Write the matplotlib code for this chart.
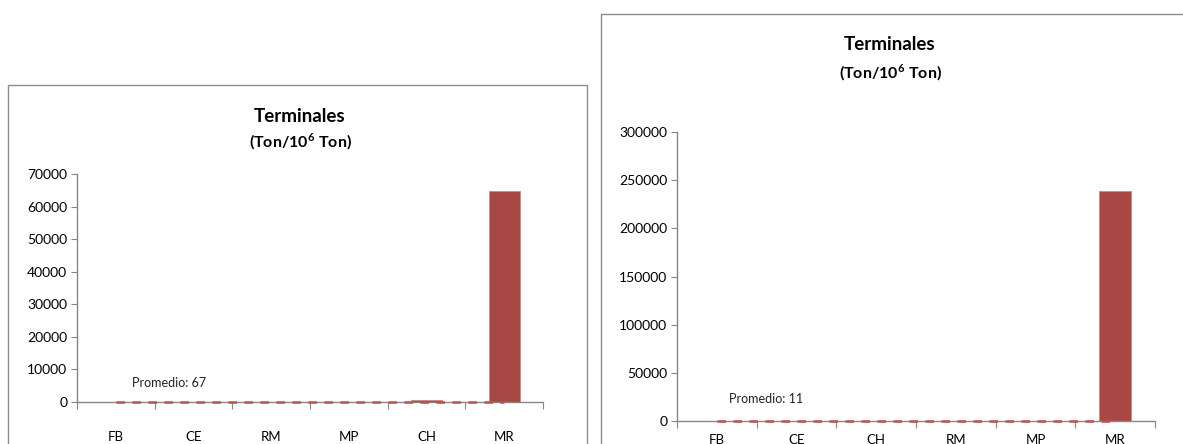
import matplotlib.pyplot as plt
from matplotlib.patches import Rectangle

plt.rcParams['font.family'] = ['Lato', 'DejaVu Sans']
plt.rcParams['mathtext.fontset'] = 'custom'
plt.rcParams['mathtext.rm'] = 'Lato'
plt.rcParams['mathtext.bf'] = 'Lato:bold'

# datos
cats_left = ['FB', 'CE', 'RM', 'MP', 'CH', 'MR']
vals_left = [30, 90, 50, 40, 700, 64700]
prom_left = 67
ticks_left = [0, 10000, 20000, 30000, 40000, 50000, 60000, 70000]

cats_right = ['FB', 'CE', 'CH', 'RM', 'MP', 'MR']
vals_right = [8, 14, 10, 12, 9, 239000]
prom_right = 11
ticks_right = [0, 50000, 100000, 150000, 200000, 250000, 300000]

BAR = '#A94744'
LINE = '#C0504D'
GRAY = '#868686'

W, H = 1183, 444
fig = plt.figure(figsize=(W / 100, H / 100), dpi=100)

# marcos de los graficos
fig.patches.append(Rectangle((8 / W, -0.1), 579 / W, (H - 85) / H + 0.1,
                             transform=fig.transFigure, fill=False,
                             edgecolor='#8c8c8c', linewidth=1))
fig.patches.append(Rectangle((601 / W, -0.1), 600 / W, (H - 14) / H + 0.1,
                             transform=fig.transFigure, fill=False,
                             edgecolor='#8c8c8c', linewidth=1))


def draw(rect, cats, vals, prom, ticks, txt_xy, xpad):
    ax = fig.add_axes(rect)
    x = list(range(len(cats)))
    ax.bar(x, vals, width=0.4, color=BAR, edgecolor='#c98a88', linewidth=0.6, zorder=2)
    ax.plot(x, [prom] * len(x), color=LINE, linestyle=(0, (3.4, 3.0)),
            linewidth=1.8, zorder=4, clip_on=False)
    ax.annotate(f'Promedio: {prom}', xy=(0, prom), xytext=txt_xy,
                textcoords='offset points', fontsize=9, color='#222222')
    ax.set_xlim(-0.5, len(cats) - 0.5)
    ax.set_ylim(0, ticks[-1])
    ax.set_yticks(ticks)
    ax.set_yticklabels([str(t) for t in ticks])
    ax.set_xticks([i - 0.5 for i in range(len(cats) + 1)])
    ax.set_xticklabels([])
    ax.set_xticks(x, minor=True)
    ax.set_xticklabels(cats, minor=True)
    ax.tick_params(axis='x', which='major', length=5, color=GRAY, direction='out')
    ax.tick_params(axis='x', which='minor', length=0, pad=xpad, labelsize=9.5)
    ax.tick_params(axis='y', length=4, color=GRAY, pad=3, labelsize=10)
    for s in ['top', 'right']:
        ax.spines[s].set_visible(False)
    for s in ['left', 'bottom']:
        ax.spines[s].set_color(GRAY)
        ax.spines[s].set_linewidth(1)
    return ax


draw([77 / W, 42 / H, 466 / W, 228 / H], cats_left, vals_left, prom_left,
     ticks_left, (12, 11), 21)
draw([677 / W, 23 / H, 478 / W, 289 / H], cats_right, vals_right, prom_right,
     ticks_right, (9, 13), 9)

# titulos
fig.text(300 / W, 1 - 116 / H, 'Terminales', ha='center', va='center',
         fontsize=13.5, fontweight='bold')
fig.text(300 / W, 1 - 142 / H, r'(Ton/10$^{\mathbf{6}}$ Ton)', ha='center',
         va='center', fontsize=11.5, fontweight='bold')
fig.text(890 / W, 1 - 45 / H, 'Terminales', ha='center', va='center',
         fontsize=13.5, fontweight='bold')
fig.text(890 / W, 1 - 73 / H, r'(Ton/10$^{\mathbf{6}}$ Ton)', ha='center',
         va='center', fontsize=11.5, fontweight='bold')

fig.savefig('out.png', dpi=100)
